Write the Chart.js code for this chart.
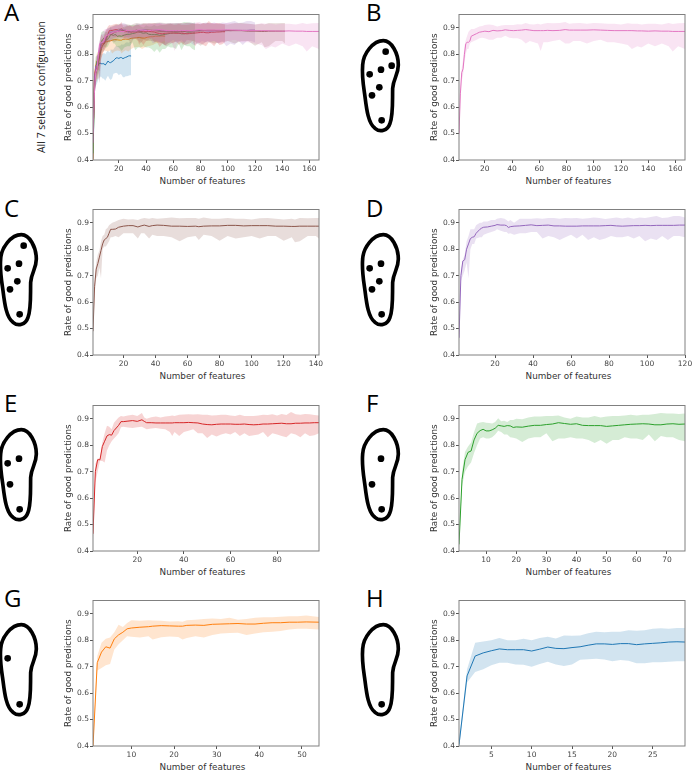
<!DOCTYPE html>
<html>
<head>
<meta charset="utf-8">
<title>Rate of good predictions by number of features</title>
<script src="https://cdn.jsdelivr.net/npm/chart.js@4"></script>
<style>
  html, body { margin: 0; padding: 0; background: #fff; }
  #page { position: relative; width: 693px; height: 771px; overflow: hidden; }
  #page canvas { position: absolute; }
  #sketch { position: absolute; left: 0; top: 0; }
</style>
</head>
<body>
<div id="page">
  <svg id="sketch" width="693" height="771" xmlns="http://www.w3.org/2000/svg"></svg>
</div>
<script>
// ---- values ----
const yTicks = [0.4, 0.5, 0.6, 0.7, 0.8, 0.9];

const hX = [1,2,3,4,5,6,7,8,9,10,11,12,13,14,15,16,17,18,19,20,21,22,23,24,25,26,27,28,29];
const hMean = [.405,.665,.74,.752,.76,.767,.764,.764,.764,.759,.766,.774,.769,.768,.772,.775,.781,.786,.786,.784,.787,.787,.783,.786,.788,.79,.793,.794,.793];
const hUpper = [.42,.69,.79,.795,.80,.808,.80,.80,.805,.80,.808,.813,.806,.818,.817,.818,.826,.832,.83,.832,.832,.838,.836,.838,.843,.845,.843,.846,.846];
const hLower = [.39,.64,.68,.69,.705,.715,.715,.708,.707,.70,.71,.718,.708,.702,.708,.726,.728,.73,.727,.72,.725,.722,.713,.713,.717,.717,.718,.72,.72];

const gX = [1,2,3,4,5,6,7,8,9,10,12,14,15,17,19,21,22,23,25,27,29,31,33,35,37,39,41,43,45,47,49,51,54];
const gMean = [.40,.715,.755,.775,.77,.805,.82,.83,.843,.846,.849,.851,.853,.855,.854,.853,.853,.856,.857,.856,.860,.861,.862,.863,.861,.861,.864,.866,.866,.868,.868,.869,.868];
const gUpper = [.42,.74,.79,.805,.81,.83,.858,.85,.865,.875,.873,.875,.874,.873,.871,.872,.87,.875,.877,.88,.882,.88,.885,.877,.88,.885,.887,.887,.889,.89,.89,.893,.888];
const gLower = [.38,.685,.695,.705,.71,.765,.785,.80,.815,.813,.81,.815,.803,.811,.814,.812,.803,.808,.815,.81,.82,.825,.827,.828,.82,.825,.83,.832,.835,.84,.843,.843,.84];

const fX = [1,2,3,4,5,6,7,8,9,10,11,12,13,14,15,16,17,18,19,20,22,24,26,28,30,32,34,36,38,40,42,44,46,48,50,52,54,56,58,60,62,64,66,68,70,72,74,76];
const fMean = [.425,.67,.745,.773,.778,.82,.845,.855,.86,.854,.854,.858,.864,.875,.873,.871,.874,.873,.867,.869,.868,.872,.875,.875,.878,.88,.885,.882,.879,.881,.875,.874,.874,.874,.871,.873,.875,.877,.879,.88,.881,.88,.877,.877,.88,.881,.879,.88];
const fUpper = [.44,.70,.775,.795,.81,.85,.882,.886,.888,.885,.884,.882,.888,.902,.89,.892,.888,.895,.895,.9,.898,.905,.908,.908,.91,.91,.912,.905,.90,.908,.905,.905,.91,.905,.908,.91,.91,.912,.915,.912,.915,.915,.918,.922,.92,.92,.918,.92];
const fLower = [.41,.645,.70,.72,.735,.77,.80,.825,.83,.825,.825,.83,.84,.855,.85,.84,.84,.83,.828,.825,.812,.825,.83,.83,.845,.815,.825,.825,.83,.825,.825,.82,.808,.82,.805,.82,.82,.83,.825,.825,.82,.84,.815,.835,.83,.83,.82,.815];

const eX = [1,2,3,4,5,6,7,8,9,10,11,12,13,14,16,18,20,22,23,24,26,28,30,32,34,35,36,38,40,42,44,46,48,50,52,54,56,58,60,62,64,66,68,70,72,74,76,78,80,82,84,86,88,90,92,94,96,98];
const eMean = [.465,.70,.745,.745,.795,.815,.835,.84,.838,.855,.865,.875,.889,.889,.891,.893,.89,.896,.89,.885,.885,.884,.884,.884,.884,.884,.885,.885,.885,.886,.885,.884,.88,.878,.877,.879,.88,.88,.88,.879,.879,.88,.878,.877,.878,.88,.88,.881,.882,.883,.881,.881,.883,.883,.884,.884,.885,.885];
const eUpper = [.49,.73,.75,.75,.81,.845,.873,.87,.86,.885,.895,.905,.91,.908,.912,.915,.91,.922,.905,.90,.906,.908,.905,.908,.91,.912,.91,.915,.916,.917,.916,.917,.915,.915,.912,.913,.915,.915,.912,.91,.915,.91,.91,.91,.912,.915,.914,.917,.912,.918,.914,.925,.917,.915,.918,.917,.914,.912];
const eLower = [.44,.66,.70,.74,.74,.735,.78,.80,.815,.825,.835,.845,.868,.87,.867,.865,.868,.87,.865,.86,.863,.865,.862,.86,.85,.835,.85,.835,.85,.855,.86,.845,.845,.827,.84,.833,.84,.845,.84,.85,.835,.845,.835,.838,.84,.85,.83,.845,.84,.835,.83,.845,.84,.83,.845,.835,.838,.845];

const dX = [1,2,3,4,5,6,7,8,9,10,12,13,14,16,18,20,21,23,25,26,27,28,30,33,36,39,42,45,48,51,54,57,60,63,66,69,72,75,78,81,84,87,90,93,96,99,102,105,108,111,114,117,120];
const dMean = [.465,.70,.755,.76,.80,.82,.84,.845,.847,.86,.875,.88,.883,.884,.887,.89,.893,.891,.891,.889,.882,.885,.887,.888,.89,.892,.889,.89,.891,.888,.888,.887,.887,.887,.888,.888,.888,.888,.889,.89,.888,.887,.888,.889,.889,.89,.889,.89,.89,.89,.89,.891,.891];
const dUpper = [.50,.72,.76,.78,.83,.85,.875,.875,.875,.89,.90,.90,.905,.905,.91,.91,.915,.918,.915,.91,.905,.91,.90,.915,.915,.915,.917,.915,.918,.918,.915,.918,.917,.918,.915,.917,.92,.918,.914,.917,.92,.916,.92,.915,.92,.918,.922,.925,.918,.92,.925,.925,.92];
const dLower = [.43,.68,.70,.72,.75,.69,.80,.82,.82,.84,.845,.845,.855,.86,.865,.87,.875,.87,.865,.865,.858,.86,.855,.86,.86,.865,.865,.84,.85,.845,.835,.845,.855,.84,.855,.835,.845,.835,.84,.85,.845,.845,.85,.84,.85,.83,.84,.835,.85,.835,.85,.85,.845];

const cX = [1,2,3,4,5,6,7,8,9,10,11,12,13,15,17,20,23,26,29,31,33,36,38,41,45,50,55,60,65,67,70,75,80,85,90,95,100,105,110,115,120,125,127,130,135,140,142];
const cMean = [.49,.66,.725,.745,.77,.795,.82,.835,.84,.845,.86,.875,.875,.876,.883,.887,.889,.889,.884,.888,.891,.886,.889,.891,.89,.887,.887,.886,.887,.885,.887,.888,.888,.89,.89,.888,.889,.889,.889,.887,.887,.886,.886,.887,.887,.887,.887];
const cUpper = [.51,.69,.75,.78,.795,.83,.85,.855,.875,.88,.89,.895,.90,.905,.91,.915,.912,.913,.91,.915,.918,.915,.918,.915,.917,.92,.917,.918,.918,.915,.92,.915,.915,.918,.915,.915,.912,.917,.918,.915,.912,.915,.912,.918,.917,.918,.918];
const cLower = [.47,.63,.69,.70,.73,.69,.80,.81,.81,.82,.83,.845,.845,.85,.845,.86,.86,.86,.84,.86,.86,.84,.855,.85,.85,.845,.83,.845,.85,.835,.855,.85,.832,.85,.84,.845,.85,.84,.85,.85,.832,.845,.826,.83,.85,.85,.84];

const bX = [1,2,3,4,5,6,7,8,9,10,12,14,16,18,20,23,26,29,32,35,38,41,44,47,50,53,56,59,61,63,66,70,75,79,82,85,90,95,100,105,110,115,120,125,128,132,135,140,145,150,155,158,162,167];
const bMean = [.50,.65,.73,.745,.80,.84,.845,.845,.85,.868,.873,.878,.883,.885,.887,.885,.89,.888,.889,.892,.89,.889,.89,.891,.893,.891,.889,.889,.889,.889,.89,.889,.89,.893,.891,.891,.891,.891,.892,.891,.89,.889,.889,.889,.889,.888,.888,.887,.888,.887,.887,.886,.886,.886];
const bUpper = [.52,.68,.75,.78,.83,.855,.87,.885,.89,.895,.895,.90,.905,.907,.91,.912,.91,.905,.908,.91,.91,.91,.913,.912,.918,.913,.912,.915,.912,.915,.918,.917,.918,.922,.915,.917,.918,.915,.918,.917,.915,.915,.912,.917,.915,.915,.912,.915,.915,.912,.918,.914,.917,.918];
const bLower = [.48,.62,.70,.72,.77,.80,.82,.82,.84,.845,.85,.855,.86,.862,.86,.855,.855,.862,.862,.87,.862,.86,.86,.855,.84,.85,.845,.84,.812,.845,.845,.85,.855,.84,.84,.85,.85,.84,.85,.855,.845,.845,.84,.835,.82,.83,.825,.84,.83,.84,.83,.81,.83,.82];

// one entry per sensor configuration
const seriesB = { x: bX, mean: bMean, upper: bUpper, lower: bLower, rgb: '227,119,194' };
const seriesC = { x: cX, mean: cMean, upper: cUpper, lower: cLower, rgb: '140,86,75' };
const seriesD = { x: dX, mean: dMean, upper: dUpper, lower: dLower, rgb: '148,103,189' };
const seriesE = { x: eX, mean: eMean, upper: eUpper, lower: eLower, rgb: '214,39,40' };
const seriesF = { x: fX, mean: fMean, upper: fUpper, lower: fLower, rgb: '44,160,44' };
const seriesG = { x: gX, mean: gMean, upper: gUpper, lower: gLower, rgb: '255,127,14' };
const seriesH = { x: hX, mean: hMean, upper: hUpper, lower: hLower, rgb: '31,119,180' };

// ---- layout of the figure ----
const PLOT_W = 226;
const PLOT_H = 147;
const LEFT_GUTTER = 30;
const RIGHT_GUTTER = 10;
const TOP_GUTTER = 4;
const BOTTOM_GUTTER = 16;

// sensors on the insole drawing, in 3x sketch units
const sensorDots = [[122,155],[140,197],[108,209],[74,223],[103,262],[81,286],[110,361]];
const footPath = 'M115,122 C140,122 160,160 160,195 C160,225 145,235 143,265 C142,300 145,345 135,370 C128,392 105,398 90,385 C70,370 65,330 60,290 C55,255 50,230 53,195 C55,160 85,122 115,122 Z';

const panels = [
  { letter: 'A', left: 93,  top: 13,  xMax: 167, xTicks: [20,40,60,80,100,120,140,160], series: [seriesB, seriesC, seriesD, seriesE, seriesF, seriesG, seriesH], letterX: 4, letterY: 21 },
  { letter: 'B', left: 459, top: 13,  xMax: 167, xTicks: [20,40,60,80,100,120,140,160], series: [seriesB], letterX: 366, letterY: 21, foot: [345, 0], dots: [0,1,2,3,4,5,6] },
  { letter: 'C', left: 93,  top: 208, xMax: 142, xTicks: [20,40,60,80,100,120,140], series: [seriesC], letterX: 4, letterY: 217, foot: [-17, 194], dots: [0,2,3,4,5,6] },
  { letter: 'D', left: 459, top: 208, xMax: 120, xTicks: [20,40,60,80,100,120], series: [seriesD], letterX: 366, letterY: 217, foot: [345, 194], dots: [2,3,4,5,6] },
  { letter: 'E', left: 93,  top: 404, xMax: 98,  xTicks: [20,40,60,80], series: [seriesE], letterX: 4, letterY: 412, foot: [-17, 389], dots: [2,3,5,6] },
  { letter: 'F', left: 459, top: 404, xMax: 76,  xTicks: [10,20,30,40,50,60,70], series: [seriesF], letterX: 366, letterY: 412, foot: [345, 389], dots: [2,5,6] },
  { letter: 'G', left: 93,  top: 599, xMax: 54,  xTicks: [10,20,30,40,50], series: [seriesG], letterX: 4, letterY: 607, foot: [-17, 584], dots: [3,6] },
  { letter: 'H', left: 459, top: 599, xMax: 29,  xTicks: [5,10,15,20,25], series: [seriesH], letterX: 366, letterY: 607, foot: [345, 584], dots: [6] }
];

const TICK_FONT = { family: '"DejaVu Sans"', size: 7.5 };
const LABEL_FONT = { family: '"DejaVu Sans"', size: 8.8 };

function toPoints(xs, ys) {
  return xs.map((x, i) => ({ x: x, y: ys[i] }));
}

// upper and lower bound fill the band, the mean goes on top
function buildDatasets(seriesList) {
  const sets = [];
  seriesList.forEach(s => {
    sets.push({ data: toPoints(s.x, s.mean), borderColor: `rgb(${s.rgb})`, borderWidth: 1, pointRadius: 0, fill: false });
    sets.push({ data: toPoints(s.x, s.upper), borderWidth: 0, borderColor: 'transparent', pointRadius: 0, fill: '+1', backgroundColor: `rgba(${s.rgb},0.2)` });
    sets.push({ data: toPoints(s.x, s.lower), borderWidth: 0, borderColor: 'transparent', pointRadius: 0, fill: false });
  });
  return sets;
}

// full box round the plot area
const frame = {
  id: 'frame',
  afterDraw(chart) {
    const a = chart.chartArea;
    const ctx = chart.ctx;
    ctx.save();
    ctx.strokeStyle = '#808080';
    ctx.lineWidth = 1;
    ctx.strokeRect(a.left, a.top, a.right - a.left, a.bottom - a.top);
    ctx.restore();
  }
};

function setTicks(scale, values) {
  scale.ticks = values.map(v => ({ value: v }));
}

function drawPanel(p) {
  const canvas = document.createElement('canvas');
  const width = LEFT_GUTTER + PLOT_W + RIGHT_GUTTER;
  const height = TOP_GUTTER + PLOT_H + BOTTOM_GUTTER;
  canvas.style.left = (p.left - LEFT_GUTTER) + 'px';
  canvas.style.top = (p.top - TOP_GUTTER) + 'px';
  canvas.style.width = width + 'px';
  canvas.style.height = height + 'px';
  canvas.width = width;
  canvas.height = height;
  document.getElementById('page').appendChild(canvas);

  new Chart(canvas, {
    type: 'line',
    data: { datasets: buildDatasets(p.series) },
    plugins: [frame],
    options: {
      responsive: false,
      animation: false,
      layout: { padding: { top: TOP_GUTTER, right: RIGHT_GUTTER, left: 0, bottom: 0 } },
      plugins: { legend: { display: false }, tooltip: { enabled: false } },
      elements: { line: { tension: 0 } },
      scales: {
        x: {
          type: 'linear',
          min: 1,
          max: p.xMax,
          afterBuildTicks: scale => setTicks(scale, p.xTicks),
          afterFit: scale => { scale.height = BOTTOM_GUTTER; },
          grid: { drawOnChartArea: false, tickLength: 3, color: '#555' },
          border: { display: false },
          ticks: { font: TICK_FONT, color: '#444', padding: 2, maxRotation: 0, autoSkip: false }
        },
        y: {
          type: 'linear',
          min: 0.4,
          max: 0.95,
          afterBuildTicks: scale => setTicks(scale, yTicks),
          afterFit: scale => { scale.width = LEFT_GUTTER; },
          grid: { drawOnChartArea: false, tickLength: 3, color: '#555' },
          border: { display: false },
          ticks: { font: TICK_FONT, color: '#444', padding: 1, autoSkip: false, callback: v => v.toFixed(1) },
          title: { display: true, text: 'Rate of good predictions', font: LABEL_FONT, color: '#333', padding: 0 }
        }
      }
    }
  });
}

function svgEl(name, attrs, text) {
  const el = document.createElementNS('http://www.w3.org/2000/svg', name);
  Object.keys(attrs).forEach(k => el.setAttribute(k, attrs[k]));
  if (text) el.textContent = text;
  return el;
}

function drawSketches() {
  const svg = document.getElementById('sketch');
  panels.forEach(p => {
    svg.appendChild(svgEl('text', { x: p.letterX, y: p.letterY, 'font-family': '"Open Sans"', 'font-size': 24, fill: '#000' }, p.letter));
    // the x label sits a little left of the axis centre in the figure
    svg.appendChild(svgEl('text', {
      x: p.left + PLOT_W / 2 - 3.5, y: p.top + PLOT_H + 24, 'text-anchor': 'middle',
      'font-family': '"DejaVu Sans"', 'font-size': 8.8, fill: '#333'
    }, 'Number of features'));
    if (!p.foot) return;
    const g = svgEl('g', { transform: `translate(${p.foot[0]},${p.foot[1]}) scale(0.3333)` });
    g.appendChild(svgEl('path', { d: footPath, fill: 'none', stroke: '#000', 'stroke-width': 11 }));
    p.dots.forEach(i => {
      g.appendChild(svgEl('circle', { cx: sensorDots[i][0], cy: sensorDots[i][1], r: 10, fill: '#000' }));
    });
    svg.appendChild(g);
  });
  svg.appendChild(svgEl('text', {
    transform: 'translate(45,87) rotate(-90)', 'text-anchor': 'middle',
    'font-family': '"Open Sans"', 'font-size': 10.5, fill: '#222'
  }, 'All 7 selected configuration'));
}

panels.forEach(drawPanel);
drawSketches();
</script>
</body>
</html>
